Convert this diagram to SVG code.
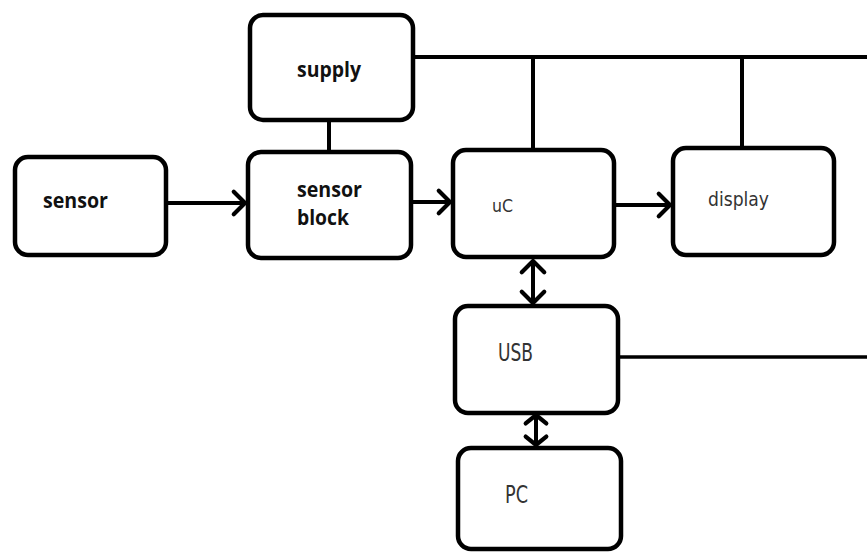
<svg xmlns="http://www.w3.org/2000/svg" width="867" height="552" viewBox="0 0 867 552">
<style>
.box{fill:#fff;stroke:#000;stroke-width:4.5}
.ln{fill:none;stroke:#000;stroke-width:4}
.b{font-family:"Open Sans","Noto Sans",sans-serif;font-weight:bold;font-size:20.5px;fill:#111}
.t{font-family:"DejaVu Sans Condensed","DejaVu Sans",sans-serif;font-stretch:condensed;font-weight:normal;fill:#333}
</style>
<defs>
<marker id="ah" markerUnits="userSpaceOnUse" markerWidth="30" markerHeight="30" viewBox="-16 -16 20 32" refX="0" refY="0" orient="auto-start-reverse">
<path d="M-12,-12 L0,0 L-12,12" fill="none" stroke="#000" stroke-width="4.5" stroke-linecap="round"/>
</marker>
<marker id="ahs" markerUnits="userSpaceOnUse" markerWidth="30" markerHeight="30" viewBox="-16 -16 20 32" refX="0" refY="0" orient="auto-start-reverse">
<path d="M-9,-11 L0,0 L-9,11" fill="none" stroke="#000" stroke-width="4.5" stroke-linecap="round"/>
</marker>
</defs>
<rect width="867" height="552" fill="#fff"/>
<g id="connectors">
<path class="ln" d="M413,57 H867"/>
<path class="ln" d="M533,57 V149"/>
<path class="ln" d="M742,57 V147"/>
<path class="ln" d="M329,121 V151"/>
<path class="ln" d="M167,203 H245" marker-end="url(#ah)"/>
<path class="ln" d="M413,202 H450" marker-end="url(#ah)"/>
<path class="ln" d="M616,205 H670" marker-end="url(#ah)"/>
<path class="ln" d="M533,261 V303" marker-start="url(#ah)" marker-end="url(#ah)"/>
<path class="ln" d="M536,415 V445" marker-start="url(#ahs)" marker-end="url(#ahs)"/>
<path class="ln" d="M620,357 H867" style="stroke-width:3.5"/>
</g>
<g id="sensor">
<rect class="box" x="15" y="157" width="151" height="98" rx="13"/>
<text class="b" x="43" y="208" textLength="65" lengthAdjust="spacingAndGlyphs">sensor</text>
</g>
<g id="supply">
<rect class="box" x="250" y="15" width="163" height="105" rx="13"/>
<text class="b" x="297" y="77" textLength="64" lengthAdjust="spacingAndGlyphs">supply</text>
</g>
<g id="sensor-block">
<rect class="box" x="248" y="152" width="163" height="106" rx="13"/>
<text class="b" x="297" y="197" textLength="65" lengthAdjust="spacingAndGlyphs">sensor</text>
<text class="b" x="297" y="225" textLength="52" lengthAdjust="spacingAndGlyphs">block</text>
</g>
<g id="uC">
<rect class="box" x="453" y="150" width="161" height="107" rx="13"/>
<text class="t" x="492" y="212" font-size="18" textLength="21" lengthAdjust="spacingAndGlyphs">uC</text>
</g>
<g id="display">
<rect class="box" x="673" y="148" width="161" height="107" rx="13"/>
<text class="t" x="708" y="206" font-size="19" textLength="61" lengthAdjust="spacingAndGlyphs">display</text>
</g>
<g id="USB">
<rect class="box" x="455" y="306" width="163" height="107" rx="13"/>
<text class="t" x="498" y="361" font-size="24" textLength="35" lengthAdjust="spacingAndGlyphs">USB</text>
</g>
<g id="PC">
<rect class="box" x="458" y="448" width="163" height="101" rx="13"/>
<text class="t" x="505" y="503" font-size="24" textLength="23" lengthAdjust="spacingAndGlyphs">PC</text>
</g>
</svg>
